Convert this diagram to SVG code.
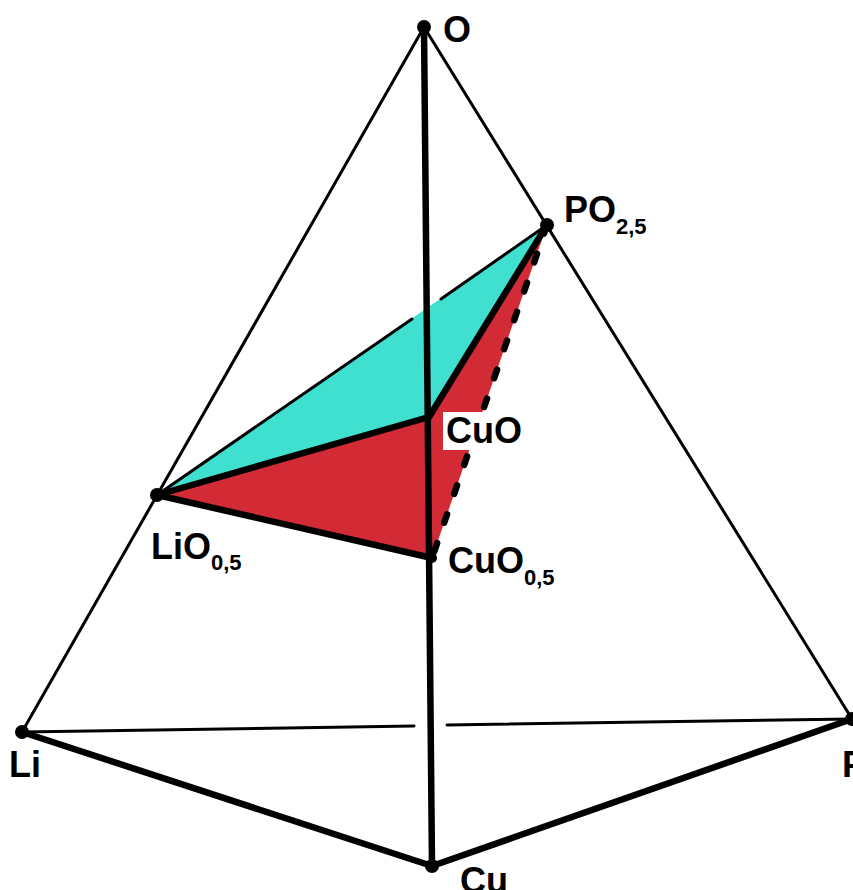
<svg xmlns="http://www.w3.org/2000/svg" width="853" height="890" viewBox="0 0 853 890">
<style>
.thin{stroke:#000;stroke-width:3;fill:none;stroke-linecap:round}
.thick{stroke:#000;stroke-width:6.5;fill:none;stroke-linecap:round;stroke-linejoin:round}
.dash{stroke:#000;stroke-width:6.5;fill:none;stroke-linecap:round;stroke-dasharray:9 21.6}
.lbl{font-family:"Liberation Sans",Arial,sans-serif;font-weight:bold;font-size:36px;fill:#000}
.sub{font-size:22px}
.dot{fill:#000}
</style>
<rect width="853" height="890" fill="#fff"/>
<g id="faces">
<polygon points="157,495 547,225 429,417" fill="#40E0D0"/>
<polygon points="157,495 429,417 547,225 432,558" fill="#D22B36"/>
</g>
<g id="connectors">
<line class="thin" x1="424" y1="27" x2="22" y2="732"/>
<line class="thin" x1="424" y1="27" x2="852" y2="719"/>
<line class="thin" x1="22" y1="732" x2="414" y2="726"/>
<line class="thin" x1="447" y1="725" x2="852" y2="719"/>
<line class="thin" x1="157" y1="495" x2="412" y2="319"/>
<line class="thin" x1="441" y1="299" x2="547" y2="225"/>
<line class="thick" x1="424" y1="27" x2="432" y2="866"/>
<line class="thick" x1="22" y1="732" x2="432" y2="866"/>
<line class="thick" x1="852" y1="719" x2="432" y2="866"/>
<polyline class="thick" points="157,495 429,417 547,225"/>
<line class="thick" x1="157" y1="495" x2="432" y2="558"/>
<line class="dash" x1="547" y1="225" x2="432" y2="558"/>
</g>
<g id="node-O"><circle class="dot" cx="424" cy="27" r="7"/><text class="lbl" x="443" y="42">O</text></g>
<g id="node-PO25"><circle class="dot" cx="547" cy="225" r="7"/><text class="lbl" x="564" y="222">PO<tspan class="sub" dy="12">2,5</tspan></text></g>
<g id="node-CuO"><rect x="443" y="412" width="77" height="38" fill="#fff"/><text class="lbl" x="446" y="443">CuO</text></g>
<g id="node-LiO05"><circle class="dot" cx="157" cy="495" r="7"/><text class="lbl" x="151" y="559">LiO<tspan class="sub" dy="11">0,5</tspan></text></g>
<g id="node-CuO05"><circle class="dot" cx="432" cy="558" r="5"/><text class="lbl" x="448" y="573">CuO<tspan class="sub" dy="12">0,5</tspan></text></g>
<g id="node-Li"><circle class="dot" cx="22" cy="732" r="7"/><text class="lbl" x="9" y="777">Li</text></g>
<g id="node-P"><circle class="dot" cx="852" cy="719" r="7"/><text class="lbl" x="842" y="777">P</text></g>
<g id="node-Cu"><circle class="dot" cx="432" cy="866" r="7"/><text class="lbl" x="460" y="893">Cu</text></g>
</svg>
